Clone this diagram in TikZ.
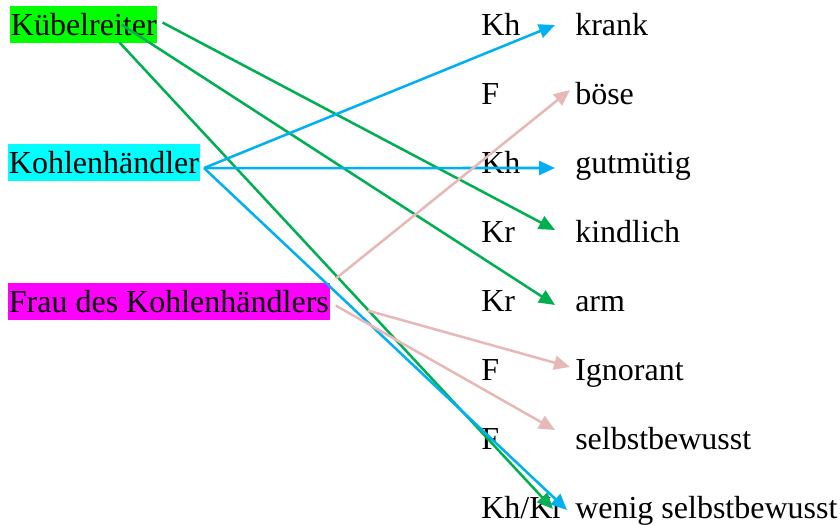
\documentclass[tikz,border=0pt]{standalone}
\usepackage{fontspec}
\setmainfont{Liberation Serif}
\usepackage{tikz}
\usetikzlibrary{arrows.meta,calc}
\definecolor{kgruen}{HTML}{00B050}
\definecolor{kblau}{HTML}{00B0F0}
\definecolor{krosa}{HTML}{E6B9B8}
\definecolor{fgruen}{HTML}{00FF00}
\definecolor{fcyan}{HTML}{00FFFF}
\definecolor{fmagenta}{HTML}{FF00FF}

\begin{document}
\begin{tikzpicture}[x=0.75pt,y=-0.75pt,
    every node/.style={font=\fontsize{24}{28}\selectfont},
    figur/.style={anchor=base west,inner xsep=0.5pt,inner ysep=5.6pt},
    zeile/.style={anchor=base west,inner sep=0pt},
    pfeil/.style={-{Triangle[length=12pt,width=10.5pt]},line width=1.9pt}]
        \useasboundingbox (0,0) rectangle (840,525);
        % Figuren
        \node[figur,fill=fgruen] (kr) at (10,35.5) {Kübelreiter};
        \node[figur,fill=fcyan] (kh) at (8,173.5) {Kohlenhändler};
        \node[figur,fill=fmagenta] (frau) at (8,312.5) {Frau des Kohlenhändlers};
        % Kuerzel
        \node[zeile] (c1) at (481,35) {Kh};
        \node[zeile] (c2) at (481,104) {F};
        \node[zeile] (c3) at (481,173) {Kh};
        \node[zeile] (c4) at (481,242) {Kr};
        \node[zeile] (c5) at (481,311) {Kr};
        \node[zeile] (c6) at (481,380) {F};
        \node[zeile] (c7) at (481,449) {F};
        \node[zeile] (c8) at (481,518) {Kh/Kr};
        % Eigenschaften
        \node[zeile] (krank) at (575,35) {krank};
        \node[zeile] (boese) at (575,104) {böse};
        \node[zeile] (gutm) at (575,173) {gutmütig};
        \node[zeile] (kindl) at (575,242) {kindlich};
        \node[zeile] (arm) at (575,311) {arm};
        \node[zeile] (ignor) at (575,380) {Ignorant};
        \node[zeile] (selbst) at (575,449) {selbstbewusst};
        \node[zeile] (wenig) at (575,518) {wenig selbstbewusst};
        % Kuebelreiter
        \draw[pfeil,kgruen] ($(kr.east)+(5,-2)$) -- ($(kindl.base west)+(-20,-12)$);
        \draw[pfeil,kgruen] ($(kr.east)+(-36,0)$) -- ($(arm.base west)+(-20,-6)$);
        \draw[pfeil,kgruen] ($(kr.south east)+(-38,-1)$) -- ($(wenig.base west)+(-22,-9)$);
        % Kohlenhaendler
        \draw[pfeil,kblau] ($(kh.east)+(4,5.5)$) -- ($(krank.base west)+(-20,-10)$);
        \draw[pfeil,kblau] ($(kh.east)+(4,5.5)$) -- ($(gutm.base west)+(-20,-5)$);
        \draw[pfeil,kblau] ($(kh.east)+(4,5.5)$) -- ($(wenig.base west)+(-8,-8)$);
        % Frau
        \draw[pfeil,krosa] ($(frau.east)+(6,-23)$) -- ($(boese.base west)+(-5,-14)$);
        \draw[pfeil,krosa] ($(frau.east)+(38,9)$) -- ($(ignor.base west)+(-5,-13)$);
        \draw[pfeil,krosa] ($(frau.east)+(6,4)$) -- ($(selbst.base west)+(-20,-19)$);
    \end{tikzpicture}
\end{document}
